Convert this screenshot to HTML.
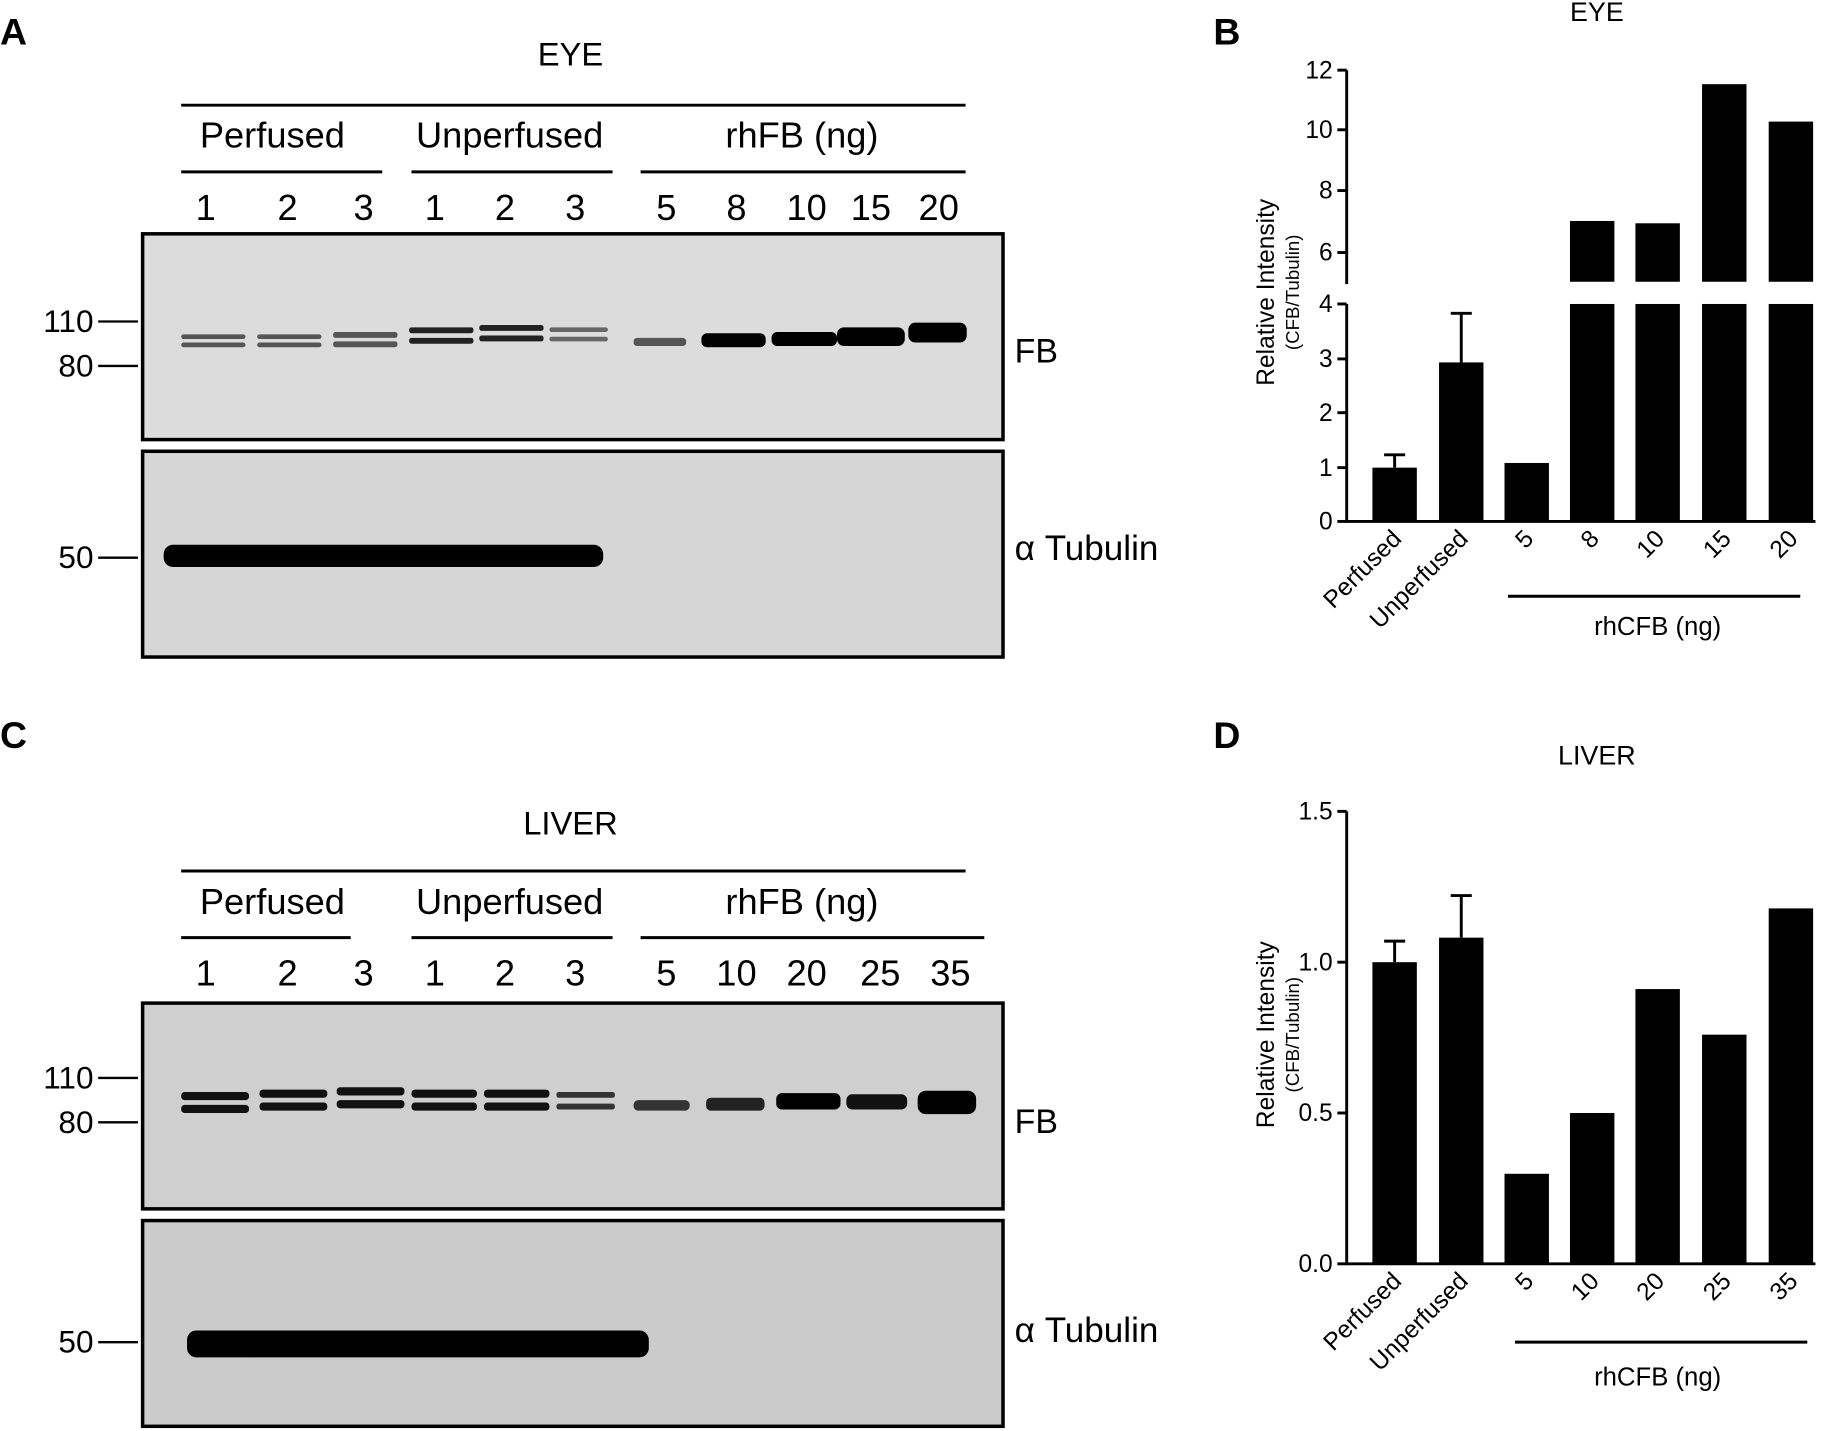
<!DOCTYPE html>
<html><head><meta charset="utf-8"><style>html,body{margin:0;padding:0;background:#fff}svg{display:block}</style></head><body>
<svg width="1833" height="1431" viewBox="0 0 1568 1224" preserveAspectRatio="none" xmlns="http://www.w3.org/2000/svg" font-family="Liberation Sans, Arial, sans-serif">
<rect width="1568" height="1224" fill="#fff"/>
<!-- Panel A -->
<text x="0" y="38" font-size="32" font-weight="bold">A</text>
<text x="488" y="56" font-size="28" text-anchor="middle">EYE</text>
<g stroke="#000" stroke-width="2.5">
<line x1="155" y1="90" x2="826" y2="90"/>
<line x1="155" y1="147" x2="327" y2="147"/><line x1="352" y1="147" x2="524" y2="147"/><line x1="548" y1="147" x2="826" y2="147"/>
</g>
<g font-size="31" text-anchor="middle">
<text x="233" y="126">Perfused</text><text x="436" y="126">Unperfused</text><text x="686" y="126">rhFB (ng)</text>
<text x="176" y="188">1</text><text x="246" y="188">2</text><text x="311" y="188">3</text><text x="372" y="188">1</text><text x="432" y="188">2</text><text x="492" y="188">3</text><text x="570" y="188">5</text><text x="630" y="188">8</text><text x="690" y="188">10</text><text x="745" y="188">15</text><text x="803" y="188">20</text>
</g>
<rect x="122" y="200" width="736" height="176" fill="#dcdcdc" stroke="#000" stroke-width="3"/>
<rect x="122" y="386" width="736" height="176" fill="#d6d6d6" stroke="#000" stroke-width="3"/>
<g fill="#555">
<rect x="155" y="286" width="55" height="4" rx="2"/><rect x="155" y="293" width="55" height="4" rx="2"/>
<rect x="220" y="286" width="55" height="4" rx="2"/><rect x="220" y="293" width="55" height="4" rx="2"/>
<rect x="285" y="284" width="55" height="5" rx="2"/><rect x="285" y="292" width="55" height="5" rx="2"/>
</g>
<g fill="#222">
<rect x="350" y="280" width="55" height="5" rx="2"/><rect x="350" y="289" width="55" height="5" rx="2"/>
<rect x="410" y="278" width="55" height="5" rx="2"/><rect x="410" y="287" width="55" height="5" rx="2"/>
</g>
<g fill="#666"><rect x="470" y="280" width="50" height="4" rx="2"/><rect x="470" y="288" width="50" height="4" rx="2"/></g>
<rect x="542" y="289" width="45" height="7" rx="3" fill="#555"/>
<rect x="600" y="285" width="55" height="12" rx="5" fill="#000"/>
<rect x="660" y="284" width="56" height="12" rx="5" fill="#000"/>
<rect x="716" y="280" width="58" height="16" rx="6" fill="#000"/>
<rect x="777" y="276" width="50" height="17" rx="6" fill="#000"/>
<rect x="140" y="466" width="376" height="19" rx="8" fill="#000"/>
<g stroke="#000" stroke-width="2"><line x1="84" y1="275" x2="118" y2="275"/><line x1="84" y1="313" x2="118" y2="313"/><line x1="84" y1="477" x2="118" y2="477"/></g>
<g font-size="27" text-anchor="end"><text x="80" y="284">110</text><text x="80" y="322">80</text><text x="80" y="486">50</text></g>
<text x="868" y="310" font-size="29">FB</text>
<text x="868" y="479" font-size="30">α Tubulin</text>
<!-- Panel C -->
<text x="0" y="640" font-size="32" font-weight="bold">C</text>
<text x="488" y="714" font-size="28" text-anchor="middle">LIVER</text>
<g stroke="#000" stroke-width="2.5">
<line x1="155" y1="745" x2="826" y2="745"/>
<line x1="155" y1="802" x2="300" y2="802"/><line x1="352" y1="802" x2="524" y2="802"/><line x1="548" y1="802" x2="842" y2="802"/>
</g>
<g font-size="31" text-anchor="middle">
<text x="233" y="782">Perfused</text><text x="436" y="782">Unperfused</text><text x="686" y="782">rhFB (ng)</text>
<text x="176" y="843">1</text><text x="246" y="843">2</text><text x="311" y="843">3</text><text x="372" y="843">1</text><text x="432" y="843">2</text><text x="492" y="843">3</text><text x="570" y="843">5</text><text x="630" y="843">10</text><text x="690" y="843">20</text><text x="753" y="843">25</text><text x="813" y="843">35</text>
</g>
<rect x="122" y="858" width="736" height="176" fill="#cfcfcf" stroke="#000" stroke-width="3"/>
<rect x="122" y="1044" width="736" height="176" fill="#cbcbcb" stroke="#000" stroke-width="3"/>
<g fill="#111">
<rect x="155" y="934" width="58" height="7" rx="3"/><rect x="155" y="945" width="58" height="7" rx="3"/>
<rect x="222" y="932" width="58" height="7" rx="3"/><rect x="222" y="943" width="58" height="7" rx="3"/>
<rect x="288" y="930" width="58" height="7" rx="3"/><rect x="288" y="941" width="58" height="7" rx="3"/>
<rect x="352" y="932" width="56" height="7" rx="3"/><rect x="352" y="943" width="56" height="7" rx="3"/>
<rect x="414" y="932" width="56" height="7" rx="3"/><rect x="414" y="943" width="56" height="7" rx="3"/>
</g>
<g fill="#333"><rect x="476" y="934" width="50" height="5" rx="2"/><rect x="476" y="944" width="50" height="5" rx="2"/></g>
<rect x="542" y="941" width="48" height="9" rx="4" fill="#333"/>
<rect x="604" y="939" width="50" height="11" rx="4" fill="#222"/>
<rect x="664" y="935" width="55" height="14" rx="5" fill="#000"/>
<rect x="724" y="936" width="52" height="13" rx="5" fill="#111"/>
<rect x="785" y="933" width="50" height="20" rx="7" fill="#000"/>
<rect x="160" y="1138" width="395" height="23" rx="8" fill="#000"/>
<g stroke="#000" stroke-width="2"><line x1="84" y1="922" x2="118" y2="922"/><line x1="84" y1="960" x2="118" y2="960"/><line x1="84" y1="1148" x2="118" y2="1148"/></g>
<g font-size="27" text-anchor="end"><text x="80" y="931">110</text><text x="80" y="969">80</text><text x="80" y="1157">50</text></g>
<text x="868" y="969" font-size="29">FB</text>
<text x="868" y="1148" font-size="30">α Tubulin</text>
<!-- Panel B -->
<text x="1038" y="38" font-size="32" font-weight="bold">B</text>
<text x="1366" y="18" font-size="23" text-anchor="middle">EYE</text>
<g stroke="#000" stroke-width="2.5" fill="none">
<line x1="1152" y1="60" x2="1152" y2="243"/><line x1="1152" y1="260" x2="1152" y2="447"/>
<line x1="1151" y1="446" x2="1553" y2="446"/>
<line x1="1144" y1="60" x2="1152" y2="60"/><line x1="1144" y1="111" x2="1152" y2="111"/><line x1="1144" y1="163" x2="1152" y2="163"/><line x1="1144" y1="216" x2="1152" y2="216"/>
<line x1="1144" y1="260" x2="1152" y2="260"/><line x1="1144" y1="307" x2="1152" y2="307"/><line x1="1144" y1="353" x2="1152" y2="353"/><line x1="1144" y1="400" x2="1152" y2="400"/><line x1="1144" y1="446" x2="1152" y2="446"/>
<line x1="1193" y1="400" x2="1193" y2="389"/><line x1="1184" y1="389" x2="1202" y2="389"/>
<line x1="1250" y1="310" x2="1250" y2="268"/><line x1="1241" y1="268" x2="1259" y2="268"/>
<line x1="1290" y1="510" x2="1540" y2="510"/>
</g>
<g font-size="21" text-anchor="end">
<text x="1140" y="67">12</text><text x="1140" y="118">10</text><text x="1140" y="170">8</text><text x="1140" y="223">6</text><text x="1140" y="267">4</text><text x="1140" y="314">3</text><text x="1140" y="360">2</text><text x="1140" y="407">1</text><text x="1140" y="453">0</text>
</g>
<g fill="#000">
<rect x="1174" y="400" width="38" height="46"/>
<rect x="1231" y="310" width="38" height="136"/>
<rect x="1287" y="396" width="38" height="50"/>
<rect x="1343" y="189" width="38" height="52"/><rect x="1343" y="260" width="38" height="186"/>
<rect x="1399" y="191" width="38" height="50"/><rect x="1399" y="260" width="38" height="186"/>
<rect x="1456" y="72" width="38" height="169"/><rect x="1456" y="260" width="38" height="186"/>
<rect x="1513" y="104" width="38" height="137"/><rect x="1513" y="260" width="38" height="186"/>
</g>
<g font-size="21" text-anchor="end">
<text transform="translate(1200,462) rotate(-45)">Perfused</text>
<text transform="translate(1257,462) rotate(-45)">Unperfused</text>
<text transform="translate(1313,462) rotate(-45)">5</text>
<text transform="translate(1369,462) rotate(-45)">8</text>
<text transform="translate(1425,462) rotate(-45)">10</text>
<text transform="translate(1482,462) rotate(-45)">15</text>
<text transform="translate(1539,462) rotate(-45)">20</text>
</g>
<text x="1418" y="543" font-size="22" text-anchor="middle">rhCFB (ng)</text>
<text transform="translate(1090,250) rotate(-90)" font-size="21" text-anchor="middle">Relative Intensity</text>
<text transform="translate(1111,250) rotate(-90)" font-size="16" text-anchor="middle">(CFB/Tubulin)</text>
<!-- Panel D -->
<text x="1038" y="640" font-size="32" font-weight="bold">D</text>
<text x="1366" y="654" font-size="23" text-anchor="middle">LIVER</text>
<g stroke="#000" stroke-width="2.5" fill="none">
<line x1="1152" y1="694" x2="1152" y2="1082"/>
<line x1="1151" y1="1081" x2="1553" y2="1081"/>
<line x1="1144" y1="694" x2="1152" y2="694"/><line x1="1144" y1="823" x2="1152" y2="823"/><line x1="1144" y1="952" x2="1152" y2="952"/><line x1="1144" y1="1081" x2="1152" y2="1081"/>
<line x1="1193" y1="823" x2="1193" y2="805"/><line x1="1184" y1="805" x2="1202" y2="805"/>
<line x1="1250" y1="802" x2="1250" y2="766"/><line x1="1241" y1="766" x2="1259" y2="766"/>
<line x1="1296" y1="1148" x2="1546" y2="1148"/>
</g>
<g font-size="21" text-anchor="end">
<text x="1140" y="701">1.5</text><text x="1140" y="830">1.0</text><text x="1140" y="959">0.5</text><text x="1140" y="1088">0.0</text>
</g>
<g fill="#000">
<rect x="1174" y="823" width="38" height="258"/>
<rect x="1231" y="802" width="38" height="279"/>
<rect x="1287" y="1004" width="38" height="77"/>
<rect x="1343" y="952" width="38" height="129"/>
<rect x="1399" y="846" width="38" height="235"/>
<rect x="1456" y="885" width="38" height="196"/>
<rect x="1513" y="777" width="38" height="304"/>
</g>
<g font-size="21" text-anchor="end">
<text transform="translate(1200,1097) rotate(-45)">Perfused</text>
<text transform="translate(1257,1097) rotate(-45)">Unperfused</text>
<text transform="translate(1313,1097) rotate(-45)">5</text>
<text transform="translate(1369,1097) rotate(-45)">10</text>
<text transform="translate(1425,1097) rotate(-45)">20</text>
<text transform="translate(1482,1097) rotate(-45)">25</text>
<text transform="translate(1539,1097) rotate(-45)">35</text>
</g>
<text x="1418" y="1185" font-size="22" text-anchor="middle">rhCFB (ng)</text>
<text transform="translate(1090,885) rotate(-90)" font-size="21" text-anchor="middle">Relative Intensity</text>
<text transform="translate(1111,885) rotate(-90)" font-size="16" text-anchor="middle">(CFB/Tubulin)</text>
</svg>
</body></html>
